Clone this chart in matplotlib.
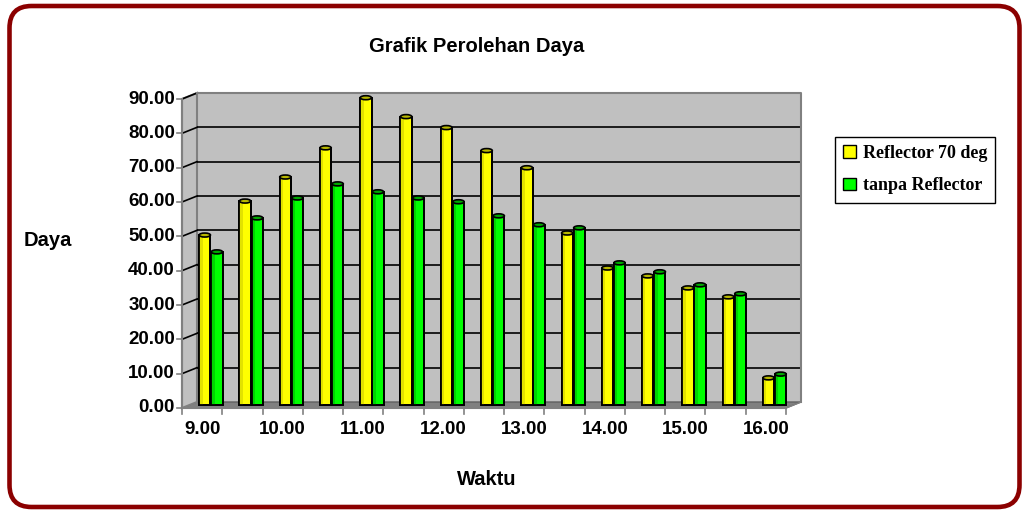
import numpy as np
import matplotlib.pyplot as plt
from matplotlib.patches import Polygon, Rectangle, Ellipse, FancyBboxPatch, Patch
from matplotlib.transforms import offset_copy

# data
waktu = ["9.00", "9.30", "10.00", "10.30", "11.00", "11.30", "12.00", "12.30",
         "13.00", "13.30", "14.00", "14.30", "15.00", "15.30", "16.00"]
reflector = [49.5, 59.4, 66.4, 74.9, 89.5, 84.0, 80.8, 74.1, 69.1, 50.1, 39.9, 37.6, 34.1, 31.5, 7.9]
tanpa = [44.6, 54.5, 60.3, 64.4, 62.1, 60.3, 59.2, 55.1, 52.5, 51.6, 41.4, 38.8, 35.0, 32.4, 9.0]
yticks = np.arange(0, 91, 10)
series_names = ["Reflector 70 deg", "tanpa Reflector"]

sans = "Liberation Sans"
serif = "Liberation Serif"

fig = plt.figure(figsize=(10.24, 5.11), dpi=100)
W, H = 1024, 511
# back wall of the 3d box, in pixels
bl, br, bt, bb = 197, 801, 93, 402
ax = fig.add_axes([bl / W, 1 - bb / H, (br - bl) / W, (bb - bt) / H])
n = len(waktu)
ax.set_xlim(0, n)
ax.set_ylim(0, 90)
ax.set_facecolor("#C0C0C0")
for s in ax.spines.values():
    s.set_visible(False)
ax.set_xticks([])
ax.set_yticks([])

xpp = n / (br - bl)
ypp = 90 / (bb - bt)
dxf, dyf = -15 * xpp, -6 * ypp   # depth offset of the front edge

def off(dx, dy):
    return offset_copy(ax.transData, fig=fig, x=dx, y=dy, units="dots")

# walls
ax.add_patch(Polygon([(0, 0), (n, 0), (n + dxf, dyf), (dxf, dyf)], closed=True,
                     facecolor="#808080", edgecolor="#606060", lw=1, clip_on=False, zorder=1))
ax.add_patch(Polygon([(0, 0), (0, 90), (dxf, 90 + dyf), (dxf, dyf)], closed=True,
                     facecolor="#C0C0C0", edgecolor="#808080", lw=1.5, clip_on=False, zorder=1))
for v in yticks[1:]:
    ax.plot([0, n], [v, v], color="black", lw=1.2, zorder=1)
    ax.plot([dxf, 0], [v + dyf, v], color="black", lw=1.2, zorder=1, clip_on=False)
ax.plot([0, n, n], [90, 90, 0], color="#808080", lw=1.5, zorder=1, clip_on=False)
ax.plot([n, n + dxf], [0, dyf], color="#808080", lw=1, zorder=1, clip_on=False)

# front axes
ax.plot([dxf, dxf], [dyf, 90 + dyf], color="#808080", lw=1.5, clip_on=False, zorder=5)
ax.plot([dxf, n + dxf], [dyf, dyf], color="#808080", lw=1.5, clip_on=False, zorder=5)
for v in yticks:
    ax.plot([dxf - 5 * xpp, dxf], [v + dyf, v + dyf], color="#808080", lw=1.2, clip_on=False)
    ax.text(dxf - 7 * xpp, v + dyf, "%.2f" % v, ha="right", va="center",
            fontsize=13.5, fontweight="bold", family=sans)
for k in range(n + 1):
    ax.plot([k + dxf, k + dxf], [dyf, dyf - 6 * ypp], color="#808080", lw=1.2, clip_on=False)
for k in range(0, n, 2):
    ax.text(k + 0.5 + dxf, dyf - 22 * ypp, waktu[k], ha="center", va="center",
            fontsize=13.5, fontweight="bold", family=sans)

# cylinders
tr = off(-7.5, -3)
bw = 0.28
x = np.arange(n)
specs = [(reflector, 0.38, "#FFFF00", "#E2E200", "#B8B800"),
         (tanpa, 0.68, "#00FF00", "#00D400", "#00A800")]
for vals, pos, col, shade, top in specs:
    xc = x + pos
    ax.bar(xc, vals, width=bw, color=col, edgecolor="black", lw=1.3,
           transform=tr, clip_on=False, zorder=3)
    for xi, v in zip(xc, vals):
        ax.add_patch(Rectangle((xi - bw / 2, 0), bw * 0.3, v, facecolor=shade,
                               edgecolor="none", transform=tr, clip_on=False, zorder=3.1))
        ax.add_patch(Rectangle((xi - bw / 2, 0), bw, v, facecolor="none",
                               edgecolor="black", lw=1.3, transform=tr, clip_on=False, zorder=3.2))
        ax.add_patch(Ellipse((xi, v), bw, 4 * ypp, facecolor=top, edgecolor="black",
                             lw=1.2, transform=tr, clip_on=False, zorder=3.3))

# texts
fig.text(477 / W, 1 - 46 / H, "Grafik Perolehan Daya", ha="center", va="center",
         fontsize=14.5, fontweight="bold", family=sans)
fig.text(48 / W, 1 - 240 / H, "Daya", ha="center", va="center",
         fontsize=14.5, fontweight="bold", family=sans)
fig.text(487 / W, 1 - 479 / H, "Waktu", ha="center", va="center",
         fontsize=14.5, fontweight="bold", family=sans)

handles = [Patch(facecolor="#FFFF00", edgecolor="black"),
           Patch(facecolor="#00FF00", edgecolor="black")]
leg = fig.legend(handles, series_names, loc="upper left",
                 bbox_to_anchor=(835 / W, 1 - 137 / H), borderaxespad=0,
                 fancybox=False, edgecolor="black", framealpha=1,
                 handlelength=0.7, handleheight=0.7, handletextpad=0.4,
                 labelspacing=0.85, borderpad=0.45,
                 prop={"family": serif, "weight": "bold", "size": 13})
leg.get_frame().set_linewidth(1)

# rounded border
fig.patches.append(FancyBboxPatch((0.095, 0.04), 10.1, 5.01,
                                  boxstyle="round,pad=0,rounding_size=0.22",
                                  transform=fig.dpi_scale_trans, facecolor="none",
                                  edgecolor="#8B0000", lw=3.3, zorder=10))

fig.savefig("out.png", dpi=100)
